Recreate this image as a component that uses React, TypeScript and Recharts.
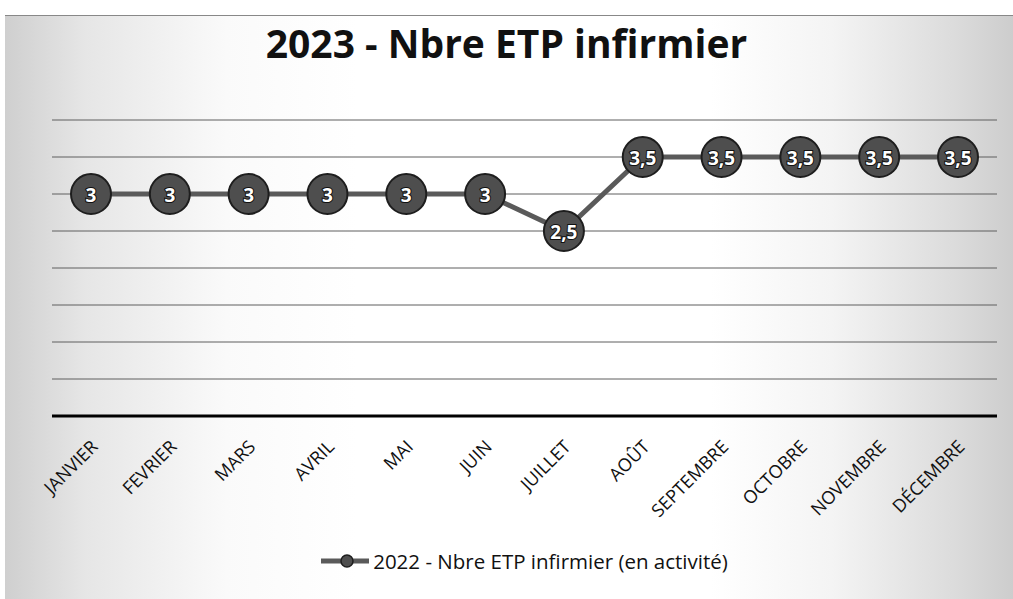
import React from "react";
import { LineChart, Line, XAxis, YAxis, CartesianGrid, Legend, LabelList } from "recharts";

const months = ["JANVIER", "FEVRIER", "MARS", "AVRIL", "MAI", "JUIN", "JUILLET", "AOÛT", "SEPTEMBRE", "OCTOBRE", "NOVEMBRE", "DÉCEMBRE"];
const etpValues = [3, 3, 3, 3, 3, 3, 2.5, 3.5, 3.5, 3.5, 3.5, 3.5];
const yTicks = [0, 0.5, 1, 1.5, 2, 2.5, 3, 3.5, 4];
const seriesName = "2022 - Nbre ETP infirmier (en activité)";
const title = "2023 - Nbre ETP infirmier";

const data = months.map((m, i) => ({ month: m, etp: etpValues[i] }));

const fmt = (v: number) => String(v).replace(".", ",");

const FONT = "'Open Sans', sans-serif";

const Tick = (props: any) => {
  const { x, y, payload } = props;
  const ax = x + 3;
  const ay = y + 19;
  return (
    <text
      x={ax}
      y={ay}
      transform={`rotate(-45 ${ax} ${ay})`}
      textAnchor="end"
      dominantBaseline="central"
      fontFamily={FONT}
      fontSize={18}
      fill="#111"
    >
      {payload.value}
    </text>
  );
};

const Dot = (props: any) => {
  const { cx, cy } = props;
  if (cx == null || cy == null) return null;
  return <circle cx={cx} cy={cy} r={20} fill="#4e4e4e" stroke="#1e1e1e" strokeWidth={2} />;
};

const DotLabel = (props: any) => {
  const { x, y, value } = props;
  return (
    <text
      x={x}
      y={y + 1}
      textAnchor="middle"
      dominantBaseline="central"
      fontFamily={FONT}
      fontWeight="bold"
      fontSize={19}
      fill="#fff"
      stroke="#111"
      strokeWidth={2}
      paintOrder="stroke"
    >
      {fmt(value)}
    </text>
  );
};

const LegendContent = () => (
  <div style={{ height: 28, display: "flex", justifyContent: "center", alignItems: "center", fontFamily: FONT, fontSize: 20.5, color: "#111" }}>
    <svg width={48} height={16} style={{ marginRight: 4 }}>
      <line x1={0} y1={8} x2={48} y2={8} stroke="#5a5a5a" strokeWidth={5} />
      <circle cx={26} cy={8} r={6} fill="#4e4e4e" stroke="#1e1e1e" strokeWidth={1.5} />
    </svg>
    <span>{seriesName}</span>
  </div>
);

export default function App() {
  return (
    <div
      style={{
        position: "absolute",
        left: 0,
        top: 0,
        width: 1013,
        height: 599,
        background: "#fff",
      }}
    >
      <div
        style={{
          position: "absolute",
          left: 5,
          top: 15,
          right: 0,
          bottom: 0,
          borderTop: "1px solid #888",
          background:
            "linear-gradient(90deg, #cfcfcf 0%, #e6e6e6 8%, #fafafa 22%, #ffffff 35%, #ffffff 70%, #f4f4f4 82%, #dcdcdc 94%, #cdcdcd 100%)",
        }}
      />
      <div
        style={{
          position: "absolute",
          left: 0,
          top: 16,
          width: 1013,
          textAlign: "center",
          fontFamily: FONT,
          fontWeight: 700,
          fontSize: 39,
          color: "#111",
          lineHeight: "54px",
        }}
      >
        {title}
      </div>
      <div style={{ position: "absolute", left: 0, top: 0 }}>
        <LineChart width={1013} height={599} data={data} margin={{ top: 120, right: 16, left: 52, bottom: 24 }}>
          <CartesianGrid vertical={false} stroke="#5e5e5e" strokeWidth={1} />
          <YAxis hide domain={[0, 4]} ticks={yTicks} />
          <XAxis
            dataKey="month"
            interval={0}
            height={131}
            padding={{ left: 39, right: 39 }}
            tickLine={false}
            axisLine={{ stroke: "#000", strokeWidth: 3 }}
            tick={<Tick />}
          />
          <Legend verticalAlign="bottom" content={<LegendContent />} />
          <Line
            type="linear"
            dataKey="etp"
            name={seriesName}
            stroke="#5a5a5a"
            strokeWidth={5}
            dot={<Dot />}
            activeDot={false}
            isAnimationActive={false}
          >
            <LabelList dataKey="etp" content={<DotLabel />} />
          </Line>
        </LineChart>
      </div>
    </div>
  );
}
